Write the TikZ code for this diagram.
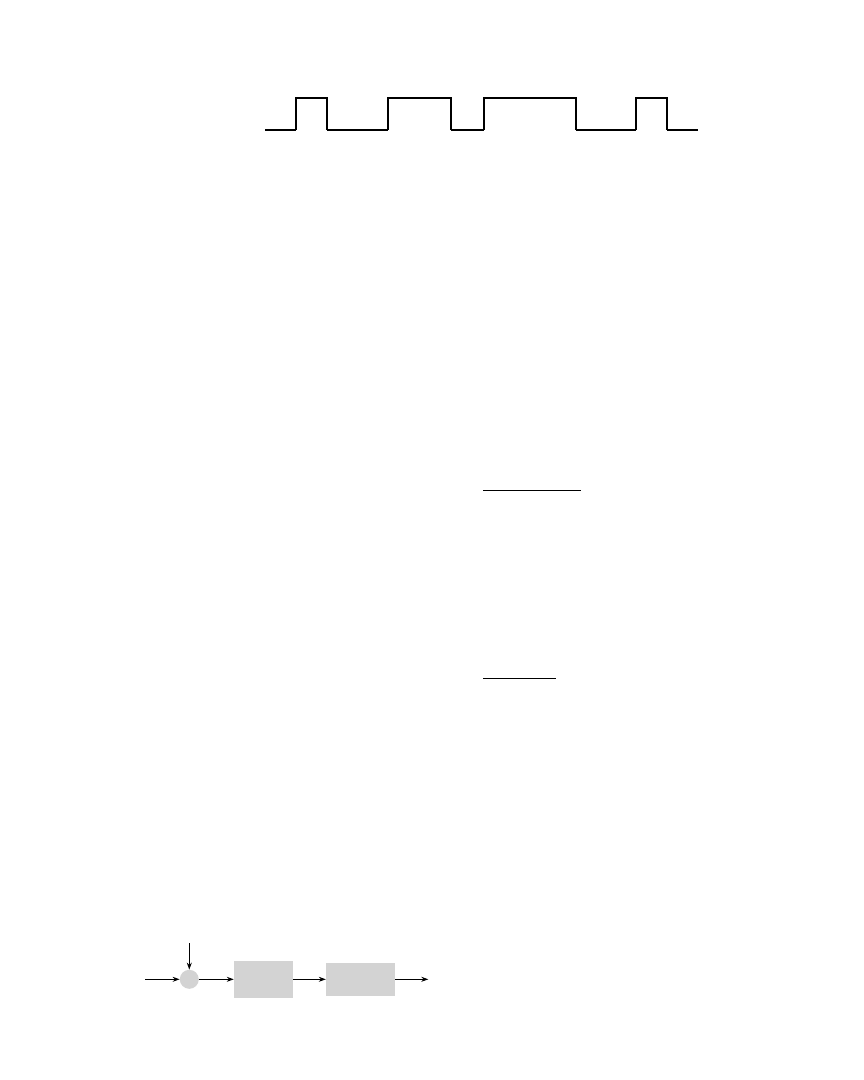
\documentclass[tikz,border=0pt]{standalone}
\usetikzlibrary{arrows.meta}
\definecolor{blockgray}{HTML}{D3D3D3}
\begin{document}
\begin{tikzpicture}[x=1pt,y=-1pt,
  thinline/.style={line width=1.1pt},
  thickline/.style={line width=2pt},
  sig/.style={line width=1pt,-{Stealth[length=7pt,width=5pt]}},
  blk/.style={fill=blockgray,draw=none,inner sep=0pt}]
\useasboundingbox (0,0) rectangle (864,1080);
% pulse waveform
\draw[thinline] (265,130) -- (296,130) (327,130) -- (388,130) (451,130) -- (484,130) (576,130) -- (636,130) (667,130) -- (698,130);
\draw[thickline] (296,130) -- (296,97.5) -- (326.7,97.5) -- (326.7,130);
\draw[thickline] (388.3,130) -- (388.3,97.5) -- (451.3,97.5) -- (451.3,130);
\draw[thickline] (484.3,130) -- (484.3,97.5) -- (575.7,97.5) -- (575.7,130);
\draw[thickline] (635.7,130) -- (635.7,97.5) -- (666.7,97.5) -- (666.7,130);
% fraction bars
\draw[line width=1pt] (483.3,490) -- (581,490);
\draw[line width=1pt] (483.3,678.3) -- (555.7,678.3);
% block diagram
\coordinate (in) at (145,979.3);
\coordinate (top) at (189.3,943.3);
\coordinate (out) at (428.3,979.3);
\node[blk,circle,minimum size=19pt] (sum) at (189.3,979.3) {};
\node[blk,minimum width=58.7pt,minimum height=36.7pt] (b1) at (263.3,979.3) {};
\node[blk,minimum width=69pt,minimum height=33pt] (b2) at (360.5,979.3) {};
\draw[sig] (in) -- (sum);
\draw[sig] (top) -- (sum);
\draw[sig] (sum) -- (b1);
\draw[sig] (b1) -- (b2);
\draw[sig] (b2) -- (out);
\end{tikzpicture}
\end{document}
